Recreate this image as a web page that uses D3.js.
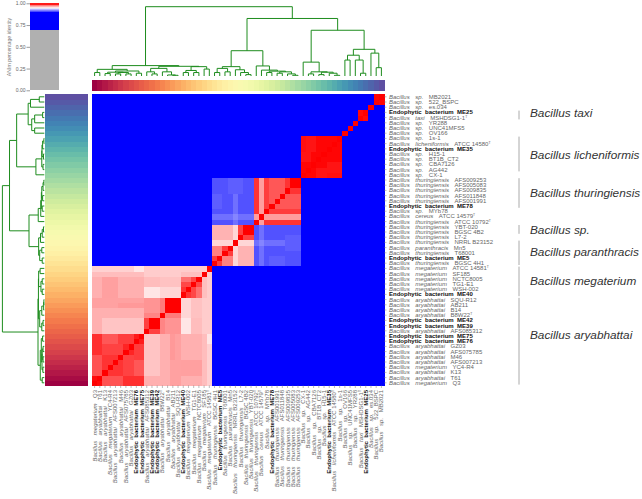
<!DOCTYPE html>
<html>
<head>
<meta charset="utf-8">
<script src="https://cdn.jsdelivr.net/npm/d3@7"></script>
<style>
body { margin: 0; background: #fff; }
svg { display: block; }
text { font-family: "Liberation Sans", Arial, sans-serif; }
</style>
</head>
<body>
<svg width="642" height="499"></svg>
<script>
// genomes, first one sits at the bottom of the rows and left of the columns
const genomes = [
  "Bacillus megaterium|Q3", "Bacillus aryabhattai|T61", "Bacillus aryabhattai|K13",
  "Bacillus megaterium|YC4-R4", "Bacillus aryabhattai|AFS007213", "Bacillus aryabhattai|M46",
  "Bacillus aryabhattai|AFS075785", "Bacillus aryabhattai|GZ03", "Endophytic bacterium|ME76",
  "Endophytic bacterium|ME75", "Bacillus aryabhattai|AFS085312", "Endophytic bacterium|ME39",
  "Endophytic bacterium|ME42", "Bacillus aryabhattai|B8W22^", "Bacillus aryabhattai|B14",
  "Bacillus aryabhattai|AB211", "Bacillus aryabhattai|SQU-R12", "Endophytic bacterium|ME40",
  "Bacillus megaterium|WSH-002", "Bacillus megaterium|TG1-E1", "Bacillus megaterium|NCTC8005",
  "Bacillus megaterium|SF185", "Bacillus megaterium|ATCC 14581^", "Bacillus thuringiensis|BGSC 4H1",
  "Endophytic bacterium|ME5", "Bacillus thuringiensis|T68001", "Bacillus paranthracis|Mn5",
  "Bacillus thuringiensis|NRRL B23152", "Bacillus thuringiensis|L7-2", "Bacillus thuringiensis|BGSC 4B2",
  "Bacillus thuringiensis|YBT-020", "Bacillus thuringiensis|ATCC 10792^", "Bacillus cereus|ATCC 14579^",
  "Bacillus sp.|MYb78", "Endophytic bacterium|ME78", "Bacillus thuringiensis|AFS001991",
  "Bacillus thuringiensis|AFS011848", "Bacillus thuringiensis|AFS009835", "Bacillus thuringiensis|AFS005083",
  "Bacillus thuringiensis|AFS009253", "Bacillus sp.|CX-1", "Bacillus sp.|AG442",
  "Bacillus sp.|CBA7126", "Bacillus sp.|BT1B_CT2", "Bacillus sp.|H15-1",
  "Endophytic bacterium|ME35", "Bacillus licheniformis|ATCC 14580^", "Bacillus sp.|1s-1",
  "Bacillus sp.|OV166", "Bacillus sp.|UNC41MFS5", "Bacillus sp.|YR288",
  "Bacillus taxi|MSHDSG1-1^", "Endophytic bacterium|ME25", "Bacillus sp.|es.034",
  "Bacillus sp.|522_BSPC", "Bacillus sp.|MB2021"
];

// percentage identity: [from, to, from, to, value] over genome indices
const identityBlocks = [
  [0, 22, 0, 22, .9655],
  // aryabhattai red block
  [0, 9, 0, 9, .986],
  [2, 4, 8, 9, .983], [0, 1, 8, 9, .992], [5, 7, 8, 9, .988],
  [0, 1, 6, 7, .993], [2, 5, 6, 7, .987], [6, 7, 6, 7, .993],
  [0, 1, 2, 5, .984], [2, 5, 2, 5, .99], [0, 1, 0, 1, .998], [6, 9, 0, 1, .991], [8, 9, 8, 9, .995],
  // aryabhattai vs the rest of the clade
  [10, 12, 0, 9, .9615], [10, 12, 0, 1, .9655], [13, 14, 0, 9, .9655],
  [15, 16, 0, 9, .9685], [15, 15, 5, 9, .97], [17, 20, 0, 9, .9655], [17, 20, 2, 4, .9686],
  [21, 21, 0, 9, .963], [22, 22, 0, 9, .959], [22, 22, 8, 9, .955],
  // SQU/ME39 group
  [10, 12, 10, 12, .9875], [11, 12, 11, 12, 1],
  [13, 13, 10, 12, .974], [14, 16, 10, 12, .971], [13, 13, 14, 16, .976], [14, 16, 14, 16, 1],
  // megaterium group
  [17, 20, 17, 20, .986], [17, 18, 17, 18, .99], [17, 18, 20, 20, .978],
  [17, 22, 10, 16, .9625], [18, 19, 10, 12, .957], [20, 20, 10, 12, .958],
  [17, 18, 10, 12, .955], [17, 18, 13, 16, .958], [19, 20, 10, 16, .963], [19, 20, 13, 16, .962],
  [21, 21, 17, 20, .9625], [22, 22, 17, 20, .96], [21, 22, 10, 16, .96], [22, 22, 21, 21, .96],
  // cereus group: thuringiensis T68001 side
  [23, 30, 23, 30, .965],
  [23, 24, 23, 24, .988], [25, 26, 25, 26, .988], [23, 24, 25, 26, .975],
  [27, 27, 23, 30, .958], [28, 30, 23, 26, .965], [28, 30, 28, 30, .987], [29, 30, 29, 30, 1],
  // cereus group: thuringiensis AFS side
  [31, 39, 31, 39, .983], [31, 31, 32, 39, .99], [33, 33, 34, 39, .988], [37, 39, 37, 39, .99],
  [32, 32, 31, 39, .969], [38, 39, 38, 39, 1],
  // between the two thuringiensis groups
  [23, 30, 31, 39, .916], [27, 27, 31, 39, .922], [23, 30, 32, 32, .922], [27, 27, 32, 32, .926],
  [23, 24, 34, 36, .9185], [26, 28, 37, 39, .9185],
  // licheniformis
  [40, 47, 40, 47, .999], [40, 41, 43, 44, .996], [40, 40, 45, 47, .997], [41, 42, 45, 47, .996],
  // smaller pairs
  [51, 52, 51, 52, .998], [54, 55, 54, 55, .999]
];
const baseIdentity = .78;

// clustering, [height, left, right], leaves are genome indices
const clusterTree = [1,
  [.15,
    [.096,
      [.05, 0, 1],
      [.072,
        [.055, [.035, 2, 3], [.05, [.03, 4, 5], [.03, 6, 7]]],
        [.04, 8, 9]]],
    [.14,
      [.11,
        [.06, 10, [.03, 11, 12]],
        [.06, 13, [.015, 14, [.01, 15, 16]]]],
      [.135,
        [.08, [.05, 17, 18], [.05, 19, 20]],
        [.1, 21, 22]]]],
  [.83,
    [.365,
      [.135,
        [.11, [.05, 23, 24], [.06, 25, 26]],
        [.09, 27, [.05, 28, [.02, 29, 30]]]],
      [.145,
        31,
        [.085,
          32,
          [.07, [.05, 33, 34], [.06, [.04, 35, 36], [.03, 37, [.01, 38, 39]]]]]]],
    [.66,
      [.2,
        40,
        [.06, [.03, 41, 42], [.055, [.02, 43, 44], [.04, 45, [.01, 46, 47]]]]],
      [.385,
        [.3,
          [.23, 48, 49],
          [.23, 50, [.04, 51, 52]]],
        [.33,
          53,
          [.12, 54, 55]]]]]];

const colourBarStops = [.7, .9, .91, .92, .93, .94, .95, .96, .97, .98, .99, 1];
const colourBarTicks = [0, .25, .5, .75, 1];

const speciesNames = ["Bacillus taxi", "Bacillus licheniformis", "Bacillus thuringiensis", "Bacillus sp.",
  "Bacillus paranthracis", "Bacillus megaterium", "Bacillus aryabhattai"];
// first and last genome covered by each species bar
const speciesSpans = [[51, 52], [41, 47], [34, 39], [29, 30], [23, 27], [17, 22], [0, 16]];
// where each species name sits, in genome rows
const speciesRows = [52.4, 44.3, 37, 29.9, 25.6, 20.1, 9.7];

const svg = d3.select("svg");
const n = genomes.length;
const idx = d3.range(n);

const x = d3.scaleBand().domain(idx).range([92, 384]);
const y = d3.scaleBand().domain(idx).range([385.4, 94.2]);
const identityColor = d3.scaleLinear().domain([.9, .95, 1]).range(["#0000ff", "#ffffff", "#ff0000"]).clamp(true);
const labelColor = i => d3.interpolateSpectral(i / (n - 1));

// --- heatmap ---
const matrix = idx.map(() => idx.map(() => baseIdentity));
identityBlocks.forEach(([a, b, c, d, v]) => {
  for (let i = a; i <= b; i++) for (let j = c; j <= d; j++) { matrix[i][j] = v; matrix[j][i] = v; }
});
idx.forEach(i => { matrix[i][i] = 1; });
const cells = idx.flatMap(i => idx.map(j => ({ i, j, v: matrix[i][j] })));

svg.append("g").attr("shape-rendering", "crispEdges")
  .selectAll("rect").data(cells).join("rect")
  .attr("x", d => x(d.i)).attr("y", d => y(d.j))
  .attr("width", x.bandwidth() + .5).attr("height", y.bandwidth() + .5)
  .attr("fill", d => identityColor(d.v));

// --- side colour strips ---
svg.append("g").attr("shape-rendering", "crispEdges").selectAll("rect").data(idx).join("rect")
  .attr("x", d => x(d)).attr("y", 80.2).attr("width", x.bandwidth() + .5).attr("height", 10.4)
  .attr("fill", labelColor);
svg.append("g").attr("shape-rendering", "crispEdges").selectAll("rect").data(idx).join("rect")
  .attr("x", 44.6).attr("y", d => y(d)).attr("width", 43.6).attr("height", y.bandwidth() + .5)
  .attr("fill", labelColor);

// --- dendrograms ---
const topHeight = d3.scaleLinear().domain([0, 1]).range([76, 6.7]);
const sideHeight = d3.scaleLinear().domain([0, 1]).range([44.3, 2.4]);
const treeColor = "#1e8c1e";

function walk(node, emit) {
  if (typeof node === "number") return { pos: node + .5, h: 0 };
  const l = walk(node[1], emit);
  const r = walk(node[2], emit);
  emit(l, r, node[0]);
  return { pos: (l.pos + r.pos) / 2, h: node[0] };
}
const links = [];
walk(clusterTree, (l, r, h) => links.push({ l, r, h }));

const topPos = d3.scaleLinear().domain([0, n]).range(x.range());
const sidePos = d3.scaleLinear().domain([0, n]).range(y.range());

svg.append("g").attr("fill", "none").attr("stroke", treeColor).attr("stroke-width", 1)
  .selectAll("path").data(links).join("path")
  .attr("d", d => `M${topPos(d.l.pos)},${topHeight(d.l.h)}V${topHeight(d.h)}H${topPos(d.r.pos)}V${topHeight(d.r.h)}`);
svg.append("g").attr("fill", "none").attr("stroke", treeColor).attr("stroke-width", 1)
  .selectAll("path").data(links).join("path")
  .attr("d", d => `M${sideHeight(d.l.h)},${sidePos(d.l.pos)}H${sideHeight(d.h)}V${sidePos(d.r.pos)}H${sideHeight(d.r.h)}`);

// --- colour bar with the identity scale ---
const barY = d3.scaleLinear().domain([0, 1]).range([90.3, 3.3]);
const bar = svg.append("g").attr("shape-rendering", "crispEdges");
bar.append("rect").attr("x", 30).attr("width", 29).attr("y", barY(.7)).attr("height", barY(0) - barY(.7)).attr("fill", "#b0b0b0");
bar.selectAll(".band").data(d3.pairs(colourBarStops)).join("rect").attr("class", "band")
  .attr("x", 30).attr("width", 29)
  .attr("y", d => barY(d[1])).attr("height", d => barY(d[0]) - barY(d[1]) + .4)
  .attr("fill", d => identityColor((d[0] + d[1]) / 2));

const barAxis = svg.append("g").attr("transform", "translate(30,0)")
  .call(d3.axisLeft(barY).tickValues(colourBarTicks).tickFormat(d3.format(".2f")).tickSize(3.5).tickPadding(1));
barAxis.select(".domain").remove();
barAxis.selectAll("line").attr("stroke", "#555").attr("stroke-width", .6);
barAxis.selectAll("text").attr("font-size", 5).attr("fill", "#666").style("font-family", "'Liberation Sans'");
svg.append("text").attr("transform", "translate(11,47) rotate(-90)").attr("text-anchor", "middle")
  .attr("font-size", 5.2).attr("fill", "#777")
  .text("ANIm percentage identity");

// --- genome labels ---
function writeLabel(sel) {
  sel.each(function (d) {
    const [name, strain] = genomes[d].split("|");
    const t = d3.select(this);
    if (name.startsWith("Endophytic")) {
      t.attr("font-weight", "bold").attr("fill", "#111").style("word-spacing", "1.7px").text(name + " " + strain);
      return;
    }
    t.attr("fill", "#666");
    t.append("tspan").attr("font-style", "italic").style("word-spacing", "4px").text(name);
    const typeStrain = strain.endsWith("^");
    t.append("tspan").attr("dx", 5.5).text(typeStrain ? strain.slice(0, -1) : strain);
    if (typeStrain) t.append("tspan").attr("font-size", 3.4).attr("dy", -2).text("T");
  });
}

const labelSize = 6;
svg.append("g").attr("font-size", labelSize).selectAll("text").data(idx).join("text")
  .attr("x", 389).attr("y", d => y(d) + y.bandwidth() / 2 + 2).call(writeLabel);
svg.append("g").attr("font-size", labelSize).selectAll("text").data(idx).join("text")
  .attr("text-anchor", "end")
  .attr("transform", d => `translate(${x(d) + x.bandwidth() / 2 + 2},390) rotate(-90)`).call(writeLabel);

// tick marks along the heatmap
svg.append("g").attr("stroke", "#777").attr("stroke-width", .5).selectAll("line").data(idx).join("line")
  .attr("x1", 384).attr("x2", 386.5).attr("y1", d => y(d) + y.bandwidth() / 2).attr("y2", d => y(d) + y.bandwidth() / 2);
svg.append("g").attr("stroke", "#777").attr("stroke-width", .5).selectAll("line").data(idx).join("line")
  .attr("y1", 385.4).attr("y2", 388).attr("x1", d => x(d) + x.bandwidth() / 2).attr("x2", d => x(d) + x.bandwidth() / 2);

// --- species brackets on the right ---
const spanY = ([a, b]) => [y(b), y(a) + y.bandwidth()];
const sp = svg.append("g").selectAll("g").data(speciesNames).join("g");
sp.append("line").attr("x1", 519).attr("x2", 519)
  .attr("y1", (d, i) => spanY(speciesSpans[i])[0] + .8).attr("y2", (d, i) => spanY(speciesSpans[i])[1] - .8)
  .attr("stroke", "#aaa").attr("stroke-width", 1);
sp.append("text").attr("x", 530)
  .attr("y", (d, i) => sidePos(speciesRows[i]) + 4)
  .attr("font-size", 11.8).attr("font-style", "italic").attr("fill", "#333").text(d => d);
</script>
</body>
</html>
